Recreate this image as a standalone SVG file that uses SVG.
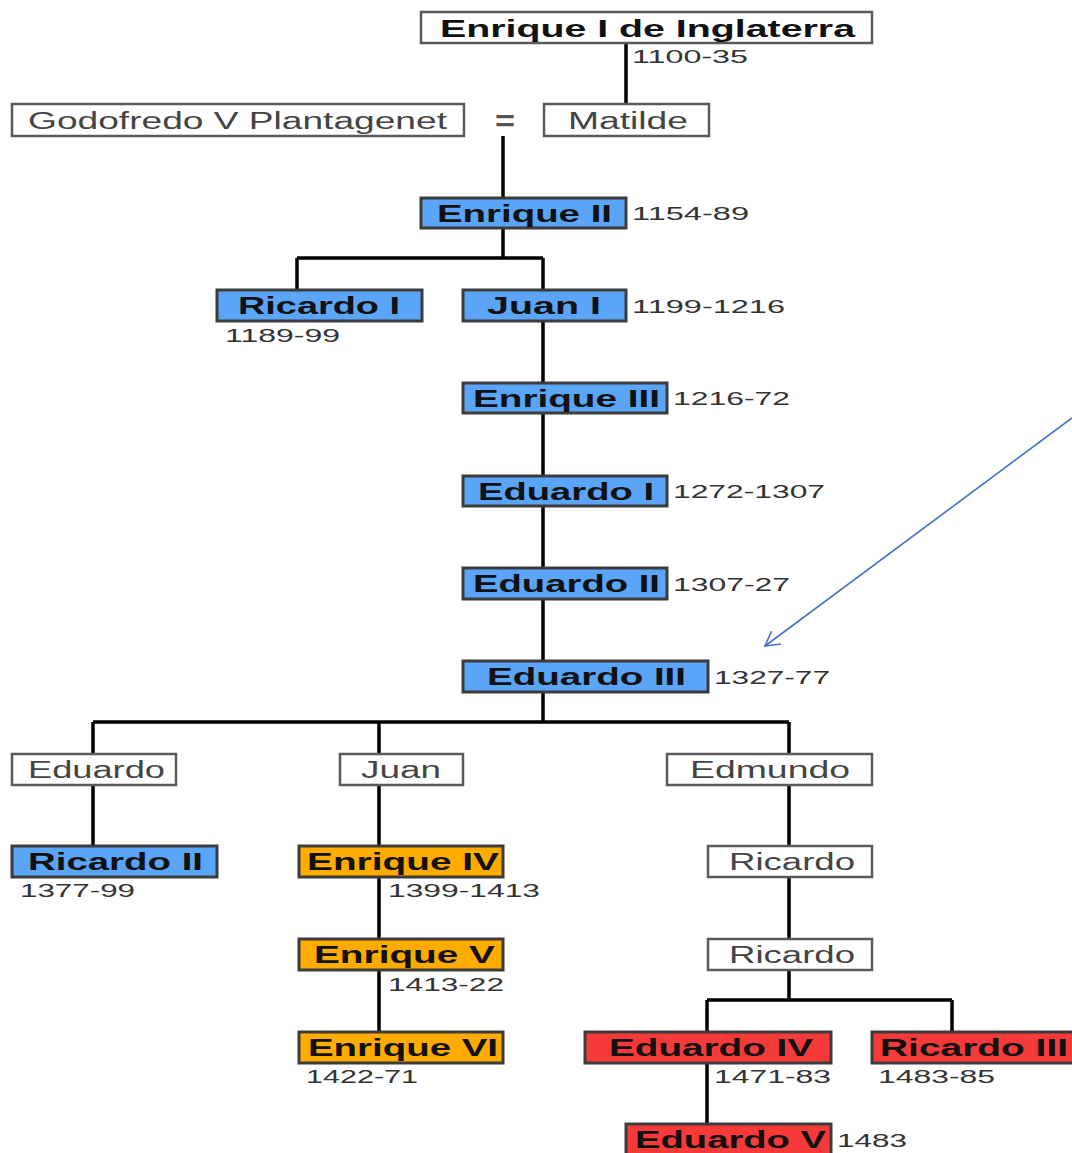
<svg xmlns="http://www.w3.org/2000/svg" width="1072" height="1153" viewBox="0 0 1072 1153">
<defs>
<style>
.b{stroke:#3c3c3c;stroke-width:3}
.w{fill:#fff;stroke:#5a5a5a;stroke-width:2.5}
.bl{fill:#5aa5f7}
.or{fill:#ffab00}
.rd{fill:#f63a3a}
.t{font-family:"Liberation Sans",Arial,sans-serif;font-weight:bold;font-size:23px;fill:#111;text-anchor:start}
.tw{font-family:"Liberation Sans",Arial,sans-serif;font-size:23px;fill:#444;text-anchor:start}
.d{font-family:"Liberation Sans",Arial,sans-serif;font-size:18px;fill:#333}
.c{stroke:#000;stroke-width:3.5;fill:none}
</style>
<marker id="ah" markerWidth="18" markerHeight="18" refX="15" refY="9" orient="auto" markerUnits="userSpaceOnUse">
<path d="M1,1 L15,9 L1,17" fill="none" stroke="#4472c4" stroke-width="1.6"/>
</marker>
</defs>
<rect width="1072" height="1153" fill="#fff"/>
<g id="connectors">
<path class="c" d="M626,43 V104"/>
<path class="c" d="M503,136 V198"/>
<path class="c" d="M503,228 V258 M297,258 H543 M297,258 V290 M543,258 V290"/>
<path class="c" d="M543,321 V383 M543,413 V476 M543,506 V568 M543,599 V661"/>
<path class="c" d="M543,692 V722 M93,722 H789 M93,722 V754 M379,722 V754 M789,722 V754"/>
<path class="c" d="M93,785 V846 M379,785 V846 M379,877 V939 M379,970 V1032"/>
<path class="c" d="M789,785 V846 M789,877 V939 M789,970 V1000 M707,1000 H952 M707,1000 V1032 M952,1000 V1032"/>
<path class="c" d="M707,1063 V1124"/>
<line x1="1072" y1="418" x2="765" y2="646" stroke="#4472c4" stroke-width="1.6" marker-end="url(#ah)"/>
</g>
<g id="n-enrique1"><rect class="w" x="421" y="12" width="451" height="31"/><text class="t" x="440" y="37" textLength="415" lengthAdjust="spacingAndGlyphs">Enrique I de Inglaterra</text><text class="d" x="632" y="63" textLength="116" lengthAdjust="spacingAndGlyphs">1100-35</text></g>
<g id="n-godofredo"><rect class="w" x="12" y="104" width="452" height="32"/><text class="tw" x="28" y="129" textLength="419" lengthAdjust="spacingAndGlyphs">Godofredo V Plantagenet</text></g>
<g id="n-eq"><text x="495" y="131" font-family="Liberation Sans, Arial, sans-serif" font-weight="bold" font-size="30" fill="#555" textLength="20" lengthAdjust="spacingAndGlyphs">=</text></g>
<g id="n-matilde"><rect class="w" x="544" y="104" width="165" height="32"/><text class="tw" x="568" y="129" textLength="120" lengthAdjust="spacingAndGlyphs">Matilde</text></g>
<g id="n-enrique2"><rect class="b bl" x="421" y="198" width="205" height="30"/><text class="t" x="437" y="222" textLength="175" lengthAdjust="spacingAndGlyphs">Enrique II</text><text class="d" x="632" y="220" textLength="117" lengthAdjust="spacingAndGlyphs">1154-89</text></g>
<g id="n-ricardo1"><rect class="b bl" x="217" y="290" width="205" height="31"/><text class="t" x="238" y="314" textLength="162" lengthAdjust="spacingAndGlyphs">Ricardo I</text><text class="d" x="225" y="342" textLength="115" lengthAdjust="spacingAndGlyphs">1189-99</text></g>
<g id="n-juan1"><rect class="b bl" x="463" y="290" width="163" height="31"/><text class="t" x="487" y="314" textLength="114" lengthAdjust="spacingAndGlyphs">Juan I</text><text class="d" x="632" y="313" textLength="153" lengthAdjust="spacingAndGlyphs">1199-1216</text></g>
<g id="n-enrique3"><rect class="b bl" x="463" y="383" width="204" height="30"/><text class="t" x="473" y="407" textLength="187" lengthAdjust="spacingAndGlyphs">Enrique III</text><text class="d" x="673" y="405" textLength="117" lengthAdjust="spacingAndGlyphs">1216-72</text></g>
<g id="n-eduardo1"><rect class="b bl" x="463" y="476" width="204" height="30"/><text class="t" x="478" y="500" textLength="176" lengthAdjust="spacingAndGlyphs">Eduardo I</text><text class="d" x="673" y="498" textLength="152" lengthAdjust="spacingAndGlyphs">1272-1307</text></g>
<g id="n-eduardo2"><rect class="b bl" x="463" y="568" width="204" height="31"/><text class="t" x="473" y="592" textLength="187" lengthAdjust="spacingAndGlyphs">Eduardo II</text><text class="d" x="673" y="591" textLength="117" lengthAdjust="spacingAndGlyphs">1307-27</text></g>
<g id="n-eduardo3"><rect class="b bl" x="463" y="661" width="245" height="31"/><text class="t" x="487" y="685" textLength="199" lengthAdjust="spacingAndGlyphs">Eduardo III</text><text class="d" x="714" y="684" textLength="116" lengthAdjust="spacingAndGlyphs">1327-77</text></g>
<g id="n-eduardo"><rect class="w" x="12" y="754" width="164" height="31"/><text class="tw" x="28" y="778" textLength="137" lengthAdjust="spacingAndGlyphs">Eduardo</text></g>
<g id="n-juan"><rect class="w" x="340" y="754" width="123" height="31"/><text class="tw" x="361" y="778" textLength="80" lengthAdjust="spacingAndGlyphs">Juan</text></g>
<g id="n-edmundo"><rect class="w" x="667" y="754" width="205" height="31"/><text class="tw" x="690" y="778" textLength="160" lengthAdjust="spacingAndGlyphs">Edmundo</text></g>
<g id="n-ricardo2"><rect class="b bl" x="12" y="846" width="205" height="31"/><text class="t" x="28" y="870" textLength="175" lengthAdjust="spacingAndGlyphs">Ricardo II</text><text class="d" x="20" y="897" textLength="115" lengthAdjust="spacingAndGlyphs">1377-99</text></g>
<g id="n-enrique4"><rect class="b or" x="299" y="846" width="204" height="31"/><text class="t" x="307" y="870" textLength="192" lengthAdjust="spacingAndGlyphs">Enrique IV</text><text class="d" x="388" y="897" textLength="152" lengthAdjust="spacingAndGlyphs">1399-1413</text></g>
<g id="n-enrique5"><rect class="b or" x="299" y="939" width="204" height="31"/><text class="t" x="314" y="963" textLength="181" lengthAdjust="spacingAndGlyphs">Enrique V</text><text class="d" x="388" y="991" textLength="116" lengthAdjust="spacingAndGlyphs">1413-22</text></g>
<g id="n-enrique6"><rect class="b or" x="299" y="1032" width="204" height="31"/><text class="t" x="308" y="1056" textLength="190" lengthAdjust="spacingAndGlyphs">Enrique VI</text><text class="d" x="306" y="1083" textLength="112" lengthAdjust="spacingAndGlyphs">1422-71</text></g>
<g id="n-ricardoa"><rect class="w" x="708" y="846" width="164" height="31"/><text class="tw" x="729" y="870" textLength="126" lengthAdjust="spacingAndGlyphs">Ricardo</text></g>
<g id="n-ricardob"><rect class="w" x="708" y="939" width="164" height="31"/><text class="tw" x="729" y="963" textLength="126" lengthAdjust="spacingAndGlyphs">Ricardo</text></g>
<g id="n-eduardo4"><rect class="b rd" x="585" y="1032" width="246" height="31"/><text class="t" x="609" y="1056" textLength="204" lengthAdjust="spacingAndGlyphs">Eduardo IV</text><text class="d" x="714" y="1083" textLength="117" lengthAdjust="spacingAndGlyphs">1471-83</text></g>
<g id="n-ricardo3"><rect class="b rd" x="872" y="1032" width="205" height="31"/><text class="t" x="880" y="1056" textLength="188" lengthAdjust="spacingAndGlyphs">Ricardo III</text><text class="d" x="878" y="1083" textLength="117" lengthAdjust="spacingAndGlyphs">1483-85</text></g>
<g id="n-eduardo5"><rect class="b rd" x="626" y="1124" width="205" height="32"/><text class="t" x="635" y="1148" textLength="191" lengthAdjust="spacingAndGlyphs">Eduardo V</text><text class="d" x="837" y="1147" textLength="70" lengthAdjust="spacingAndGlyphs">1483</text></g>
</svg>
